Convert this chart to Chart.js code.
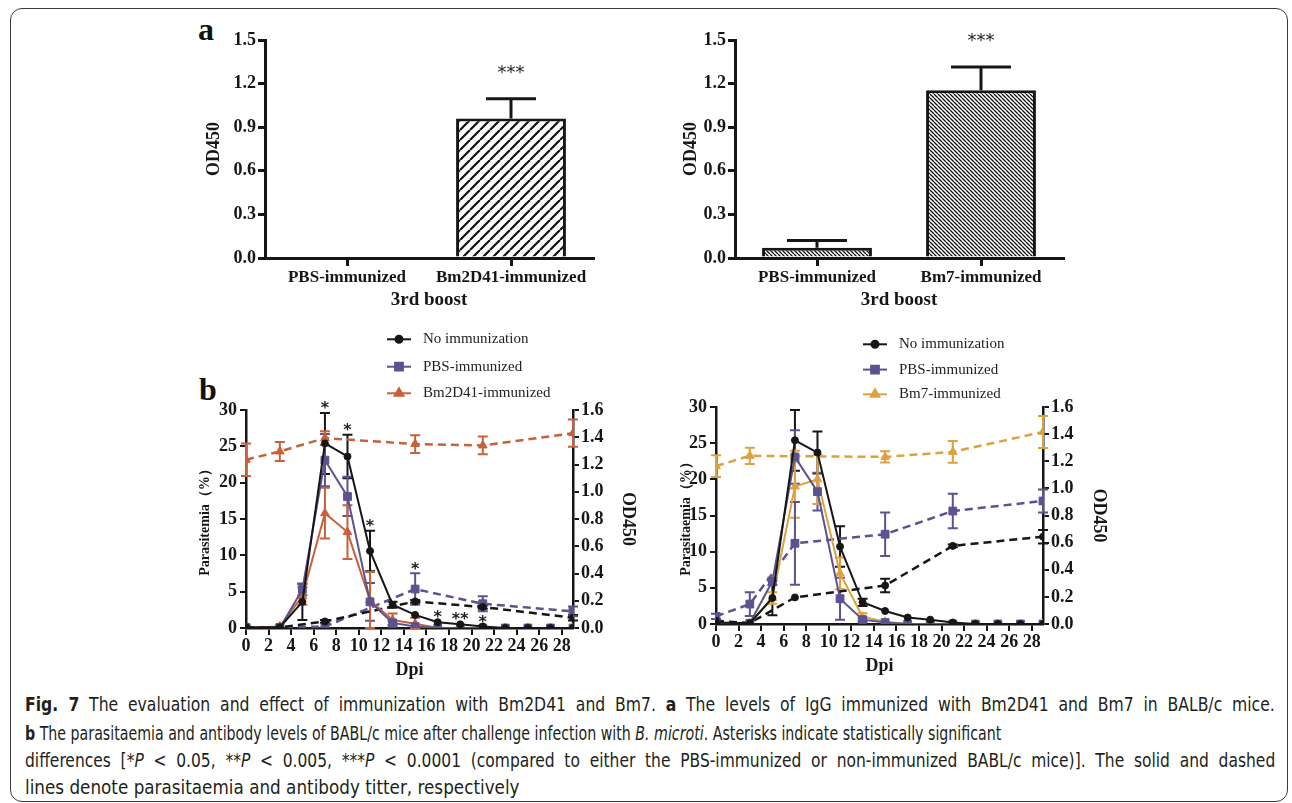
<!DOCTYPE html>
<html>
<head>
<meta charset="utf-8">
<script src="https://cdn.jsdelivr.net/npm/chart.js@4.4.0/dist/chart.umd.min.js"></script>
<style>
  html, body { margin: 0; padding: 0; background: #fff; }
  #page { position: relative; width: 1292px; height: 803px; overflow: hidden; }
  #frame { position: absolute; left: 10px; top: 8px; width: 1276px; height: 792px; border: 1.5px solid #3a3a3a; border-radius: 12px; }
  canvas { position: absolute; }
  .tag { position: absolute; font-family: "Liberation Serif", serif; font-weight: bold; font-size: 32px; line-height: 32px; color: #111; }
  .cap { position: absolute; left: 25px; white-space: nowrap; font-family: "Liberation Sans Narrow", "DejaVu Sans Condensed", sans-serif; font-size: 20px; line-height: 24px; color: #231f20; transform-origin: 0 50%; }
</style>
</head>
<body>
<div id="page">
  <div id="frame"></div>
  <div class="tag" style="left:198px; top:13px;">a</div>
  <div class="tag" style="left:199px; top:373px;">b</div>
  <canvas id="a1" width="430" height="310" style="left:180px; top:10px;"></canvas>
  <canvas id="a2" width="430" height="310" style="left:650px; top:10px;"></canvas>
  <canvas id="b1" width="470" height="360" style="left:185px; top:325px;"></canvas>
  <canvas id="b2" width="470" height="365" style="left:660px; top:320px;"></canvas>
  <div class="cap" data-w="1250" data-just="1" style="top:692px;"><b>Fig. 7</b> The evaluation and effect of immunization with Bm2D41 and Bm7. <b>a</b> The levels of IgG immunized with Bm2D41 and Bm7 in BALB/c mice.</div>
  <div class="cap" data-w="976" style="top:721px;"><b>b</b> The parasitaemia and antibody levels of BABL/c mice after challenge infection with <i>B. microti</i>. Asterisks indicate statistically significant</div>
  <div class="cap" data-w="1250" data-just="1" style="top:748px;">differences [*<i>P</i> &lt; 0.05, **<i>P</i> &lt; 0.005, ***<i>P</i> &lt; 0.0001 (compared to either the PBS-immunized or non-immunized BABL/c mice)]. The solid and dashed</div>
  <div class="cap" data-w="495" style="top:775px;">lines denote parasitaemia and antibody titter, respectively</div>
</div>
<script>
// panel a: IgG after 3rd boost
const groupsA1 = ['PBS-immunized', 'Bm2D41-immunized'];
const odA1 = [0.0, 0.96];
const sdA1 = [0.0, 0.135];
const groupsA2 = ['PBS-immunized', 'Bm7-immunized'];
const odA2 = [0.07, 1.155];
const sdA2 = [0.05, 0.16];
const odTicksA = [0, 0.3, 0.6, 0.9, 1.2, 1.5];

// panel b: parasitaemia (solid) and OD450 (dashed)
const days = [0, 3, 5, 7, 9, 11, 13, 15, 17, 19, 21, 23, 25, 27, 29];
const odDays = [0, 3, 7, 15, 21, 29];
const dayTicks = [0, 2, 4, 6, 8, 10, 12, 14, 16, 18, 20, 22, 24, 26, 28];
const parTicks = [0, 5, 10, 15, 20, 25, 30];
const odTicksB = [0, 0.1, 0.2, 0.3, 0.4, 0.5, 0.6, 0.7, 0.8, 0.9, 1.0, 1.1, 1.2, 1.3, 1.4, 1.5, 1.6];

const parNoneB1 = [0.1, 0.1, 3.6, 25.4, 23.6, 10.6, 3.2, 1.8, 0.8, 0.5, 0.2, 0, 0, 0, 0];
const parNoneErrB1 = [0, 0, 2.5, 4.2, 3.0, 2.8, 0.4, 0, 0, 0, 0, 0, 0, 0, 0];
const parPbsB1 = [0, 0, 5.3, 23.1, 18.1, 3.6, 0.7, 0.2, 0, 0, 0, 0, 0, 0, 0];
const parPbsErrB1 = [0, 0, 0.8, 3.6, 2.7, 2.6, 0.3, 0, 0, 0, 0, 0, 0, 0, 0];
const parBm2B1 = [0, 0.2, 4.4, 15.8, 13.2, 3.8, 1.1, 0.6, 0, 0, 0, 0, 0, 0, 0];
const parBm2ErrB1 = [0, 0, 1.2, 3.5, 3.7, 3.9, 0.9, 0.8, 0, 0, 0, 0, 0, 0, 0];
const odNoneB1 = [0.005, 0.005, 0.048, 0.195, 0.154, 0.075];
const odNoneErrB1 = [0, 0, 0.01, 0.01, 0.012, 0.02];
const odPbsB1 = [0.005, 0.005, 0.01, 0.286, 0.178, 0.122];
const odPbsErrB1 = [0, 0, 0, 0.115, 0.055, 0.036];
const odBm2B1 = [1.235, 1.296, 1.394, 1.35, 1.34, 1.43];
const odBm2ErrB1 = [0.12, 0.07, 0.05, 0.065, 0.065, 0.10];
const starDaysB1 = [7, 9, 11, 15, 17, 19, 21];
const starLevelsB1 = [29.6, 26.6, 13.4, 0.40, 0.8, 0.5, 0.2];
const starAxesB1 = ['y', 'y', 'y', 'y2', 'y', 'y', 'y'];
const starTextB1 = ['*', '*', '*', '*', '*', '**', '*'];

const parNoneB2 = [0.2, 0.1, 3.6, 25.4, 23.7, 10.7, 3.0, 1.8, 0.9, 0.6, 0.2, 0, 0, 0, 0];
const parNoneErrB2 = [0, 0, 2.4, 4.2, 2.9, 2.8, 0.5, 0, 0, 0, 0, 0, 0, 0, 0];
const parPbsB2 = [0, 0.1, 5.9, 23.1, 18.3, 3.5, 0.6, 0.2, 0, 0, 0, 0, 0, 0, 0];
const parPbsErrB2 = [0, 0, 0.5, 3.7, 2.6, 2.9, 0.3, 0, 0, 0, 0, 0, 0, 0, 0];
const parBm7B2 = [0, 0.1, 3.6, 19.0, 20.0, 7.0, 1.0, 0.3, 0, 0, 0, 0, 0, 0, 0];
const parBm7ErrB2 = [0, 0, 0.8, 4.3, 3.4, 2.2, 0.5, 0, 0, 0, 0, 0, 0, 0, 0];
const odNoneB2 = [0.024, 0.007, 0.196, 0.284, 0.576, 0.644];
const odNoneErrB2 = [0, 0, 0, 0.05, 0.01, 0.05];
const odPbsB2 = [0.056, 0.147, 0.595, 0.662, 0.833, 0.907];
const odPbsErrB2 = [0.02, 0.088, 0.305, 0.16, 0.127, 0.085];
const odBm7B2 = [1.164, 1.24, 1.237, 1.232, 1.269, 1.416];
const odBm7ErrB2 = [0.08, 0.06, 0.04, 0.042, 0.08, 0.118];

const serif = "'Liberation Serif', 'Times New Roman', serif";
const ink = '#161616';
const purple = '#59538f';
const rust = '#c8603c';
const gold = '#dea13f';
const bold = size => ({ family: serif, size: size, weight: 'bold' });

function hatch(step, lw, dir) {
  const c = document.createElement('canvas');
  c.width = c.height = step;
  const g = c.getContext('2d');
  g.fillStyle = '#fff';
  g.fillRect(0, 0, step, step);
  g.strokeStyle = '#111';
  g.lineWidth = lw;
  g.beginPath();
  for (let k = -1; k <= 1; k++) {
    if (dir > 0) { g.moveTo(k * step, step); g.lineTo(k * step + step, 0); }
    else { g.moveTo(k * step, 0); g.lineTo(k * step + step, step); }
  }
  g.stroke();
  return g.createPattern(c, 'repeat');
}

// error bars read from dataset.errors
const errorBars = {
  id: 'errorBars',
  beforeDatasetsDraw(chart, args, o) {
    const ctx = chart.ctx;
    chart.data.datasets.forEach((ds, i) => {
      if (!ds.errors) return;
      const meta = chart.getDatasetMeta(i);
      const ys = chart.scales[meta.yAxisID];
      ctx.save();
      ctx.strokeStyle = ds.errColor || ds.borderColor;
      ctx.lineWidth = o.width;
      ctx.setLineDash([]);
      meta.data.forEach((el, j) => {
        const e = ds.errors[j];
        if (!e) return;
        const raw = ds.data[j];
        const v = typeof raw === 'object' ? raw.y : raw;
        const top = ys.getPixelForValue(v + e);
        const bot = o.both ? ys.getPixelForValue(Math.max(v - e, 0)) : el.y;
        const half = o.cap / 2;
        ctx.beginPath();
        ctx.moveTo(el.x, bot); ctx.lineTo(el.x, top);
        ctx.moveTo(el.x - half, top); ctx.lineTo(el.x + half, top);
        if (o.both) { ctx.moveTo(el.x - half, bot); ctx.lineTo(el.x + half, bot); }
        ctx.stroke();
      });
      ctx.restore();
    });
  }
};

const stars = {
  id: 'stars',
  afterDatasetsDraw(chart, args, o) {
    if (!o.items) return;
    const ctx = chart.ctx;
    ctx.save();
    ctx.fillStyle = '#222';
    ctx.font = o.font;
    ctx.textAlign = 'center';
    ctx.textBaseline = 'alphabetic';
    o.items.forEach(s => {
      const x = chart.scales.x.getPixelForValue(s.x);
      const y = chart.scales[s.axis].getPixelForValue(s.y);
      ctx.fillText(s.text, x, y - o.offset);
    });
    ctx.restore();
  }
};

const sideLegend = {
  id: 'sideLegend',
  afterDraw(chart, args, o) {
    if (!o.rows) return;
    const ctx = chart.ctx, a = chart.chartArea;
    ctx.save();
    o.rows.forEach((dy, i) => {
      const ds = chart.data.datasets[i];
      const y = a.top + dy, x0 = a.left + o.x;
      ctx.strokeStyle = ds.borderColor;
      ctx.fillStyle = ds.borderColor;
      ctx.lineWidth = 2;
      ctx.setLineDash([]);
      ctx.beginPath(); ctx.moveTo(x0, y); ctx.lineTo(x0 + o.len, y); ctx.stroke();
      Chart.helpers.drawPoint(ctx, { pointStyle: ds.pointStyle, radius: ds.pointRadius, borderWidth: 1, rotation: 0 }, x0 + o.len / 2, y);
      ctx.fillStyle = '#222';
      ctx.font = '15px ' + serif;
      ctx.textAlign = 'left';
      ctx.textBaseline = 'middle';
      ctx.fillText(ds.label, x0 + o.len + o.gap, y);
    });
    ctx.restore();
  }
};

function makeA(id, labels, values, errs, pattern, cap, titlePad) {
  return new Chart(document.getElementById(id), {
    type: 'bar',
    data: {
      labels: labels,
      datasets: [{
        data: values, errors: errs, errColor: ink,
        backgroundColor: pattern, borderColor: ink, borderWidth: 3,
        barPercentage: 0.67, categoryPercentage: 1
      }]
    },
    options: {
      responsive: false, animation: false, events: [],
      layout: { padding: { top: 30, right: 17, left: 0, bottom: 0 } },
      plugins: {
        legend: { display: false }, tooltip: { enabled: false },
        errorBars: { width: 3, cap: cap, both: false },
        stars: { items: [{ x: 1, y: values[1] + errs[1], axis: 'y', text: '***' }], offset: 21, font: '18px "DejaVu Sans"' }
      },
      scales: {
        x: {
          grid: { offset: false, drawOnChartArea: false, tickLength: 8, color: ink, lineWidth: 3 },
          border: { color: ink, width: 3 },
          ticks: { color: ink, font: bold(17), padding: 1 },
          title: { display: true, text: '3rd boost', color: ink, font: bold(19), padding: { top: 0, bottom: 9 } },
          afterFit: s => { s.height = 62; }
        },
        y: {
          min: 0, max: 1.5,
          afterBuildTicks: s => { s.ticks = odTicksA.map(v => ({ value: v })); },
          grid: { drawOnChartArea: false, tickLength: 7, color: ink, lineWidth: 3 },
          border: { color: ink, width: 3 },
          ticks: { color: ink, font: bold(18), padding: 2, callback: v => v.toFixed(1) },
          title: { display: true, text: 'OD450', color: ink, font: bold(18), padding: { top: titlePad, bottom: 0 } },
          afterFit: s => { s.width = 85; }
        }
      }
    },
    plugins: [errorBars, stars]
  });
}

function pts(xs, ys) { return xs.map((x, i) => ({ x: x, y: ys[i] })); }

function lineSet(label, xs, ys, errs, color, style, radius, axis, dashed) {
  return {
    label: label, data: pts(xs, ys), errors: errs, yAxisID: axis,
    borderColor: color, backgroundColor: color,
    pointBackgroundColor: color, pointBorderColor: color,
    borderWidth: dashed ? 2.5 : 2, borderDash: dashed ? [8, 5] : [],
    pointStyle: style, pointRadius: radius, pointBorderWidth: 1, tension: 0, fill: false
  };
}

function makeB(id, sets, cfg) {
  return new Chart(document.getElementById(id), {
    type: 'line',
    data: { datasets: sets },
    options: {
      responsive: false, animation: false, events: [],
      layout: { padding: { top: cfg.top, left: 0, right: 0, bottom: 0 } },
      plugins: {
        legend: { display: false }, tooltip: { enabled: false },
        errorBars: { width: 2, cap: 10, both: true },
        stars: { items: cfg.stars, offset: 0, font: 'bold 16px "DejaVu Sans"' },
        sideLegend: { x: cfg.legX, rows: cfg.legRows, len: 24, gap: 12 }
      },
      scales: {
        x: {
          type: 'linear', min: 0, max: 29,
          afterBuildTicks: s => { s.ticks = dayTicks.map(v => ({ value: v })); },
          grid: { drawOnChartArea: false, tickLength: 7, color: ink, lineWidth: 2 },
          border: { color: ink, width: 2.5 },
          ticks: { autoSkip: false, maxRotation: 0, color: ink, font: bold(18), padding: 1 },
          title: { display: true, text: 'Dpi', color: ink, font: bold(18), padding: { top: 0, bottom: cfg.dpiPad } },
          afterFit: s => { s.height = cfg.xh; }
        },
        y: {
          position: 'left', min: 0, max: 30,
          afterBuildTicks: s => { s.ticks = parTicks.map(v => ({ value: v })); },
          grid: { drawOnChartArea: false, tickLength: 6, color: ink, lineWidth: 2 },
          border: { color: ink, width: 2.5 },
          ticks: { color: ink, font: bold(18), padding: 3 },
          title: { display: true, text: cfg.parTitle, color: ink, font: bold(14), padding: { top: cfg.parPad, bottom: 0 } },
          afterFit: s => { s.width = cfg.lw; }
        },
        y2: {
          position: 'right', min: 0, max: 1.6,
          afterBuildTicks: s => { s.ticks = odTicksB.map(v => ({ value: v })); },
          grid: { drawOnChartArea: false, tickLength: 6, color: ink, lineWidth: 2 },
          border: { color: ink, width: 2.5 },
          ticks: { color: ink, font: bold(18), padding: 2, callback: v => (Math.round(v * 10) % 2 === 0 ? v.toFixed(1) : '') },
          title: { display: true, text: 'OD450', color: ink, font: bold(18), padding: { top: cfg.odPad, bottom: 0 } },
          afterFit: s => { s.width = cfg.rw; }
        }
      }
    },
    plugins: [errorBars, stars, sideLegend]
  });
}

makeA('a1', groupsA1, odA1, sdA1, hatch(10, 2.2, 1), 50, 24);
makeA('a2', groupsA2, odA2, sdA2, hatch(4, 1.3, -1), 60, 31);

makeB('b1', [
  lineSet('No immunization', days, parNoneB1, parNoneErrB1, ink, 'circle', 3.5, 'y', false),
  lineSet('PBS-immunized', days, parPbsB1, parPbsErrB1, purple, 'rect', 5.5, 'y', false),
  lineSet('Bm2D41-immunized', days, parBm2B1, parBm2ErrB1, rust, 'triangle', 5, 'y', false),
  lineSet('No immunization OD', odDays, odNoneB1, odNoneErrB1, ink, 'circle', 3.5, 'y2', true),
  lineSet('PBS-immunized OD', odDays, odPbsB1, odPbsErrB1, purple, 'rect', 5.5, 'y2', true),
  lineSet('Bm2D41-immunized OD', odDays, odBm2B1, odBm2ErrB1, rust, 'triangle', 5, 'y2', true)
], {
  top: 85, xh: 57, dpiPad: 4, lw: 61, rw: 82, parPad: 12, odPad: 17,
  parTitle: 'Parasitemia（%）',
  legX: 141, legRows: [-70.7, -43.3, -16.7],
  stars: starDaysB1.map((d, i) => ({ x: d, y: starLevelsB1[i], axis: starAxesB1[i], text: starTextB1[i] }))
});

makeB('b2', [
  lineSet('No immunization', days, parNoneB2, parNoneErrB2, ink, 'circle', 3.5, 'y', false),
  lineSet('PBS-immunized', days, parPbsB2, parPbsErrB2, purple, 'rect', 5.5, 'y', false),
  lineSet('Bm7-immunized', days, parBm7B2, parBm7ErrB2, gold, 'triangle', 5, 'y', false),
  lineSet('No immunization OD', odDays, odNoneB2, odNoneErrB2, ink, 'circle', 3.5, 'y2', true),
  lineSet('PBS-immunized OD', odDays, odPbsB2, odPbsErrB2, purple, 'rect', 5.5, 'y2', true),
  lineSet('Bm7-immunized OD', odDays, odBm7B2, odBm7ErrB2, gold, 'triangle', 5, 'y2', true)
], {
  top: 87, xh: 61, dpiPad: 8, lw: 56, rw: 87, parPad: 18, odPad: 21,
  parTitle: 'Parasitaemia（%）',
  legX: 147, legRows: [-62.7, -37.4, -12.7],
  stars: []
});

// caption: line 2 sets the base squeeze; the full-width lines take a
// squeeze half way to their own fit and make up the rest with word spacing
const caps = Array.from(document.querySelectorAll('.cap'));
const base = +caps[1].dataset.w / caps[1].offsetWidth;
caps.forEach(el => {
  const own = +el.dataset.w / el.offsetWidth;
  let s = own;
  if (el.dataset.just) {
    s = Math.sqrt(base * own);
    const gaps = (el.textContent.match(/ /g) || []).length;
    el.style.wordSpacing = ((+el.dataset.w / s - el.offsetWidth) / gaps).toFixed(2) + 'px';
  }
  el.style.transform = 'scaleX(' + s + ')';
});
</script>
</body>
</html>
